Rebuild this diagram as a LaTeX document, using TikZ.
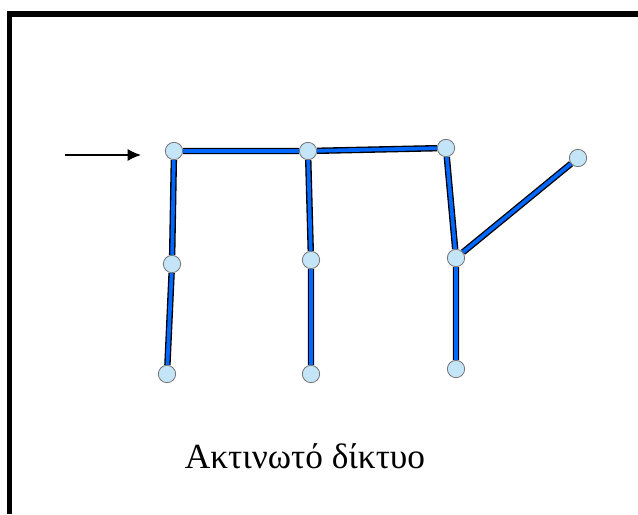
\documentclass[tikz,border=0pt]{standalone}
\usepackage{fontspec}
\setmainfont{Liberation Serif}
\usetikzlibrary{arrows.meta, backgrounds}
\definecolor{pipeblue}{RGB}{0,104,255}
\definecolor{jointblue}{RGB}{196,228,248}

\begin{document}
\begin{tikzpicture}[x=0.75pt, y=-0.75pt,
    joint/.style={circle, draw=black!55, fill=jointblue, line width=0.6pt, minimum size=13pt, inner sep=0pt},
    pipe/.style={draw=black, line width=1pt, double=pipeblue, double distance=2.8pt}]
    \useasboundingbox (0,0) rectangle (638,514);

    % Frame (top and left edges only)
    \draw[line width=3.8pt] (9.5,514) -- (9.5,14) -- (638,14);

    % Joints
    \node[joint] (a1) at (174,151) {};
    \node[joint] (a2) at (172,264) {};
    \node[joint] (a3) at (167,374) {};
    \node[joint] (b1) at (308,151) {};
    \node[joint] (b2) at (311,260) {};
    \node[joint] (b3) at (311,374) {};
    \node[joint] (c1) at (446,148) {};
    \node[joint] (c2) at (456,258) {};
    \node[joint] (c3) at (456,369) {};
    \node[joint] (d)  at (578,158) {};

    % Pipes
    \begin{scope}[on background layer]
        \draw[pipe] (a1) -- (b1) -- (c1);
        \draw[pipe] (a1) -- (a2) -- (a3);
        \draw[pipe] (b1) -- (b2) -- (b3);
        \draw[pipe] (c1) -- (c2) -- (c3);
        \draw[pipe] (c2) -- (d);
    \end{scope}

    % Feed arrow
    \coordinate (feed) at (65,155);
    \draw[-{Latex[length=10pt, width=9pt]}, line width=0.9pt] (feed) -- ([xshift=-18pt]a1.west |- feed);

    % Caption
    \node[font=\fontsize{26.5}{30}\selectfont, anchor=base] (caption) at (305,468) {Ακτινωτό δίκτυο};
\end{tikzpicture}
\end{document}
